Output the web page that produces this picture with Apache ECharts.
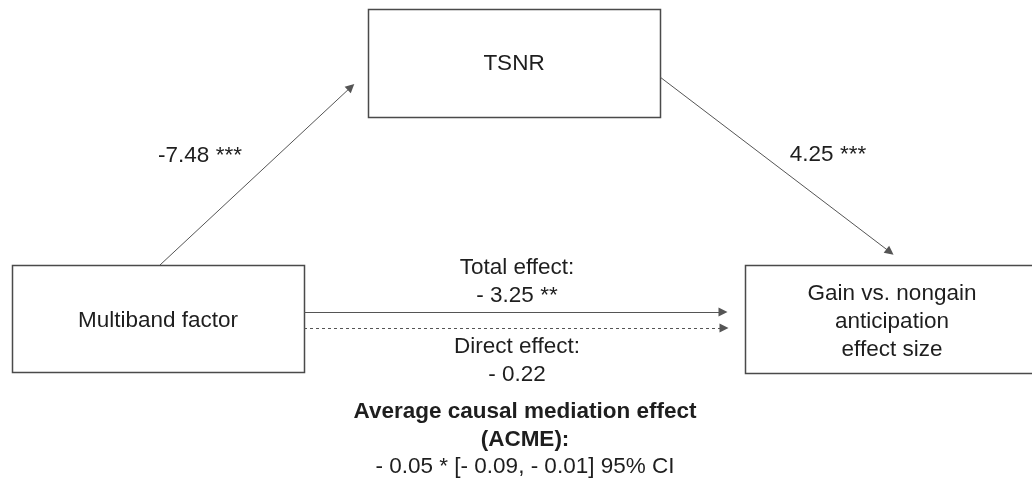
<!DOCTYPE html>
<html>
<head>
<meta charset="utf-8">
<script src="https://cdn.jsdelivr.net/npm/echarts@6/dist/echarts.min.js"></script>
<style>html,body{margin:0;padding:0;background:#fff}#c{width:1032px;height:485px}</style>
</head>
<body>
<div id="c"></div>
<script>
// ---- data ----
const nodeNames = ['TSNR', 'Multiband factor', 'Gain vs. nongain\nanticipation\neffect size'];
const pathNames = ['a', 'b', 'total', 'direct'];
const pathLabels = ['-7.48 ***', '4.25 ***', 'Total effect:\n- 3.25 **', 'Direct effect:\n- 0.22'];
const acmeTitle = 'Average causal mediation effect\n(ACME):';
const acmeValue = '- 0.05 * [- 0.09, - 0.01] 95% CI';

// ---- layout (diagram coordinates) ----
const nodeBoxes = [[368, 9, 660, 117], [12, 265, 304, 372], [745, 265, 1040, 373]];
const nodeTextPos = [[514, 64], [158, 321], [892, 322]];
const solidArrows = [[[160, 265], [351, 87]], [[660, 77], [890, 252]], [[304, 312], [723, 312]]];
const dashedArrows = [[[304, 328], [724, 328]]];
const pathLabelPos = [[200, 156], [828, 155], [517, 282], [517, 361]];

const FONT = '"Liberation Sans", Arial, sans-serif';
const TXT = '#1e1e1e';

const boxData = nodeBoxes.map(b => b.slice());
const textData = [];
nodeNames.forEach((t, i) => textData.push([nodeTextPos[i][0], nodeTextPos[i][1], t, 0]));
pathLabels.forEach((t, i) => textData.push([pathLabelPos[i][0], pathLabelPos[i][1], t, 0]));
textData.push([525, 426, acmeTitle, 1]);
textData.push([525, 467, acmeValue, 0]);

const chart = echarts.init(document.getElementById('c'), null, {renderer: 'canvas'});
chart.setOption({
  animation: false,
  backgroundColor: '#fff',
  grid: {left: 0, right: 0, top: 0, bottom: 0},
  xAxis: {type: 'value', min: 0, max: 1032, show: false},
  yAxis: {type: 'value', min: 0, max: 485, inverse: true, show: false},
  series: [
    {
      type: 'custom',
      coordinateSystem: 'cartesian2d',
      data: boxData,
      clip: false,
      renderItem: function (params, api) {
        const p1 = api.coord([api.value(0), api.value(1)]);
        const p2 = api.coord([api.value(2), api.value(3)]);
        return {
          type: 'rect',
          shape: {x: p1[0] + 0.5, y: p1[1] + 0.5, width: p2[0] - p1[0], height: p2[1] - p1[1]},
          style: {fill: '#fff', stroke: '#4a4a4a', lineWidth: 1.5}
        };
      }
    },
    {
      type: 'lines',
      coordinateSystem: 'cartesian2d',
      symbol: ['none', 'triangle'],
      symbolSize: [8, 9],
      lineStyle: {color: '#555', width: 1, opacity: 1},
      data: solidArrows.map((c, i) => ({coords: c}))
    },
    {
      type: 'lines',
      coordinateSystem: 'cartesian2d',
      symbol: ['none', 'triangle'],
      symbolSize: [8, 9],
      lineStyle: {color: '#555', width: 1, type: [3, 3], opacity: 1},
      data: dashedArrows.map(c => ({coords: c}))
    },
    {
      type: 'custom',
      coordinateSystem: 'cartesian2d',
      data: textData,
      clip: false,
      renderItem: function (params, api) {
        const d = textData[params.dataIndex];
        const p = api.coord([d[0], d[1]]);
        return {
          type: 'text',
          style: {
            text: d[2], x: p[0], y: p[1], align: 'center', verticalAlign: 'middle',
            fontFamily: FONT, fontSize: 22.5, fontWeight: d[3] ? 'bold' : 'normal',
            lineHeight: 28, fill: TXT
          }
        };
      }
    }
  ]
});
</script>
</body>
</html>
